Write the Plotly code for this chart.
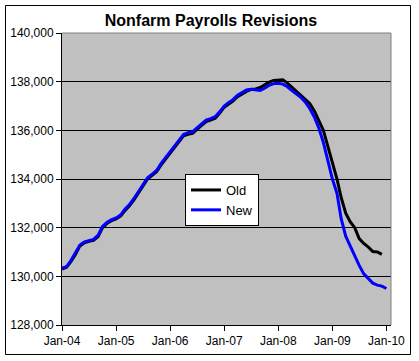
import plotly.graph_objects as go
import pandas as pd

# ---- data (thousands of jobs, monthly) ----
new_values = [130340,130400,130650,130950,131290,131420,131470,131520,131690,132050,132220,132330,
              132400,132530,132760,132950,133200,133480,133800,134050,134200,134350,134640,134880,
              135100,135380,135620,135830,135900,135940,136100,136280,136420,136480,136560,136760,
              137000,137150,137260,137440,137540,137660,137690,137650,137640,137730,137850,137920,
              137935,137900,137800,137640,137500,137360,137170,136900,136550,136100,135500,134800,
              134000,133410,132380,131650,131250,130860,130450,130100,129920,129720,129640,129600,
              129500]
old_values = [130300,130370,130600,130900,131250,131380,131440,131480,131640,132000,132180,132290,
              132360,132480,132700,132900,133140,133420,133740,134000,134150,134300,134580,134820,
              135040,135320,135560,135770,135840,135880,136040,136220,136360,136420,136500,136700,
              136950,137080,137200,137380,137500,137600,137680,137700,137760,137870,137980,138050,
              138080,138080,137950,137780,137600,137420,137250,137100,136800,136400,136000,135350,
              134650,134000,133250,132600,132250,132000,131550,131350,131200,131020,131000,130900]
new_months = [d.strftime("%Y-%m-%d") for d in pd.date_range("2004-01-01", periods=len(new_values), freq="MS")]
old_months = [d.strftime("%Y-%m-%d") for d in pd.date_range("2004-01-01", periods=len(old_values), freq="MS")]
x_tick_dates = ["2004-01-01", "2005-01-01", "2006-01-01", "2007-01-01", "2008-01-01", "2009-01-01", "2010-01-01"]
x_tick_labels = ["Jan-04", "Jan-05", "Jan-06", "Jan-07", "Jan-08", "Jan-09", "Jan-10"]
y_ticks = [128000, 130000, 132000, 134000, 136000, 138000, 140000]

FONT = "Liberation Sans, Arial, sans-serif"
W, H = 419, 361
L, R, T, B = 62, 28, 33, 36
pw, ph = W - L - R, H - T - B

fig = go.Figure()
fig.add_trace(go.Scatter(x=old_months, y=old_values, mode="lines", name="Old",
                         line=dict(color="#000000", width=3)))
fig.add_trace(go.Scatter(x=new_months, y=new_values, mode="lines", name="New",
                         line=dict(color="#0000FF", width=3)))

def px_x(p):
    return (p - L) / pw

def px_y(p):
    return (H - B - p) / ph

shapes = [
    dict(type="line", xref="paper", yref="paper", x0=0, x1=1, y0=1, y1=1,
         line=dict(color="#808080", width=1), layer="above"),
    dict(type="line", xref="paper", yref="paper", x0=1, x1=1, y0=0, y1=1,
         line=dict(color="#808080", width=1), layer="above"),
    dict(type="rect", xref="paper", yref="paper",
         x0=px_x(5.5), x1=px_x(410.5), y0=px_y(354.5), y1=px_y(5.5),
         line=dict(color="#000000", width=1), fillcolor="rgba(0,0,0,0)", layer="above"),
]

fig.update_layout(
    width=W, height=H, autosize=False,
    margin=dict(l=L, r=R, t=T, b=B, pad=0, autoexpand=False),
    paper_bgcolor="white",
    plot_bgcolor="#C0C0C0",
    font=dict(family=FONT, size=12, color="black"),
    title=dict(text="<b>Nonfarm Payrolls Revisions</b>", xref="container", yref="container",
               x=211 / W, y=1 - 20 / H, xanchor="center", yanchor="middle",
               font=dict(family=FONT, size=16, color="black")),
    showlegend=True,
    legend=dict(x=px_x(185), y=px_y(174), xanchor="left", yanchor="top",
                bgcolor="white", bordercolor="black", borderwidth=1,
                font=dict(family=FONT, size=13, color="black"),
                itemwidth=30, tracegroupgap=0),
    shapes=shapes,
    xaxis=dict(type="date", range=["2004-01-01", "2010-02-01"], automargin=False,
               tickmode="array", tickvals=x_tick_dates, ticktext=x_tick_labels,
               ticks="outside", ticklen=5, tickcolor="black", tickwidth=1,
               showline=True, linecolor="black", linewidth=1,
               showgrid=False, zeroline=False,
               tickfont=dict(family=FONT, size=12, color="black")),
    yaxis=dict(range=[128000, 140000], tickmode="array", tickvals=y_ticks, automargin=False,
               tickformat=",d", ticks="outside", ticklen=5, tickcolor="black", tickwidth=1,
               showline=True, linecolor="black", linewidth=1,
               showgrid=True, gridcolor="black", gridwidth=1, zeroline=False,
               tickfont=dict(family=FONT, size=12, color="black")),
)

fig.write_html("out.html", config={"displayModeBar": False},
               post_script="document.body.style.margin='0';document.body.style.overflow='hidden';")
